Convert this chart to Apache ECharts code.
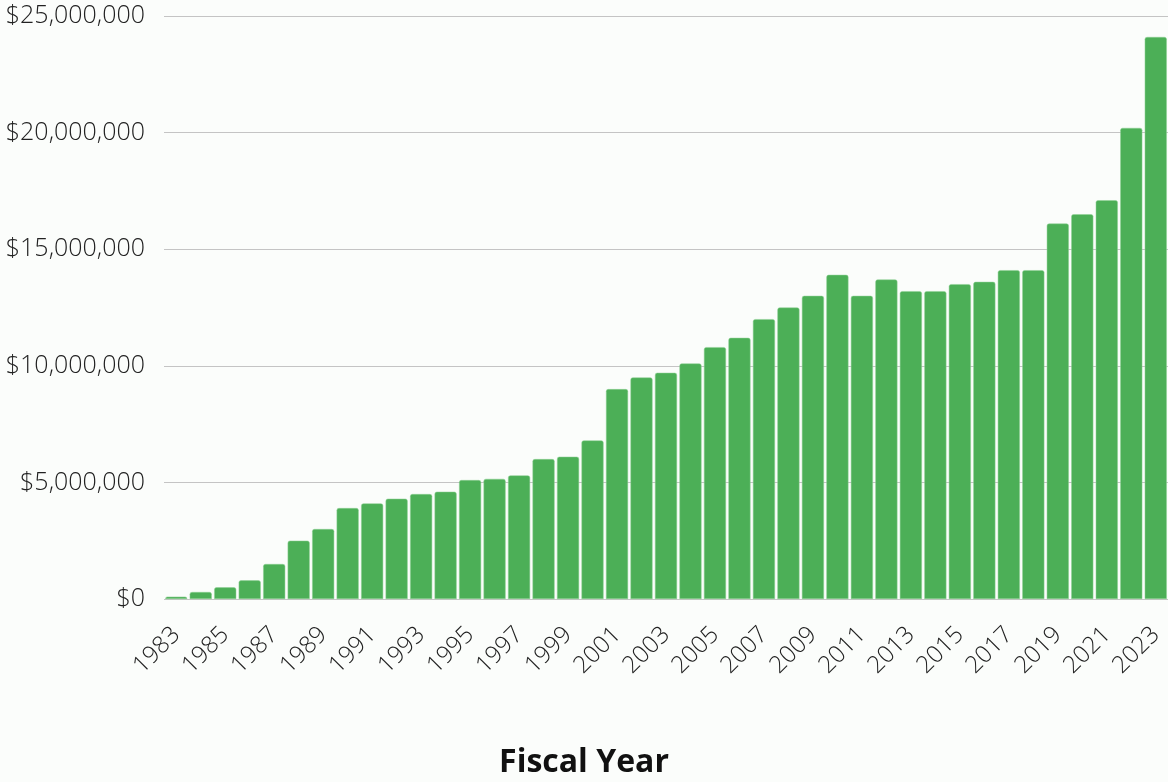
<!DOCTYPE html>
<html>
<head>
<meta charset="utf-8">
<script src="https://cdn.jsdelivr.net/npm/echarts@6/dist/echarts.min.js"></script>
<style>
html,body{margin:0;padding:0;background:#fbfdfb;}
#c{width:1168px;height:782px;}
</style>
</head>
<body>
<div id="c"></div>
<script>
const years = ['1983','1984','1985','1986','1987','1988','1989','1990','1991','1992','1993','1994','1995','1996','1997','1998','1999','2000','2001','2002','2003','2004','2005','2006','2007','2008','2009','2010','2011','2012','2013','2014','2015','2016','2017','2018','2019','2020','2021','2022','2023'];
const funding = [100000,300000,500000,800000,1500000,2500000,3000000,3900000,4100000,4300000,4500000,4600000,5100000,5150000,5300000,6000000,6100000,6800000,9000000,9500000,9700000,10100000,10800000,11200000,12000000,12500000,13000000,13900000,13000000,13700000,13200000,13200000,13500000,13600000,14100000,14100000,16100000,16500000,17100000,20200000,24100000];
const yTicks = [0,5000000,10000000,15000000,20000000,25000000];
const xTitle = 'Fiscal Year';

const chart = echarts.init(document.getElementById('c'));
chart.setOption({
  backgroundColor: '#fbfdfb',
  animation: false,
  title: {
    text: xTitle,
    left: 'center',
    top: 742,
    textStyle: {fontFamily: 'Open Sans', fontWeight: 'bold', fontSize: 32, color: '#111'}
  },
  grid: {left: 164, top: 16, width: 1006, height: 583},
  xAxis: {
    type: 'category',
    data: years,
    axisLine: {show: false},
    axisTick: {show: false},
    axisLabel: {
      interval: 1,
      rotate: 45,
      fontFamily: 'Open Sans',
      fontWeight: 300,
      fontSize: 24,
      color: '#222',
      margin: 32
    }
  },
  yAxis: {
    type: 'value',
    min: yTicks[0],
    max: yTicks[yTicks.length-1],
    interval: 5000000,
    axisLine: {show: false},
    axisTick: {show: false},
    splitLine: {lineStyle: {color: '#c4c4c4', width: 1}},
    axisLabel: {
      fontFamily: 'Open Sans',
      fontWeight: 300,
      fontSize: 25,
      color: '#222',
      margin: 19,
      formatter: v => '$' + v.toLocaleString('en-US')
    }
  },
  series: [{
    type: 'bar',
    data: funding,
    barCategoryGap: '10%',
    itemStyle: {color: '#4caf57', borderRadius: [2,2,0,0], borderColor: '#8fd094', borderWidth: 0.5}
  }]
});
</script>
</body>
</html>
